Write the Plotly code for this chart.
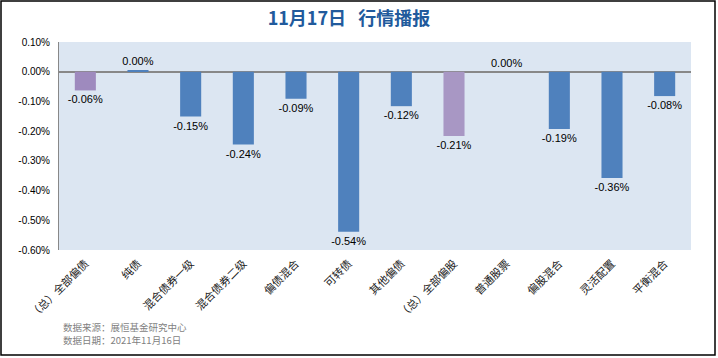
import plotly.graph_objects as go

categories = ["（总）全部偏债", "纯债", "混合债券一级", "混合债券二级", "偏债混合", "可转债",
              "其他偏债", "（总）全部偏股", "普通股票", "偏股混合", "灵活配置", "平衡混合"]
values = [-0.063, 0.003, -0.151, -0.245, -0.091, -0.539, -0.116, -0.216, 0.0, -0.193, -0.358, -0.082]
labels = ["-0.06%", "0.00%", "-0.15%", "-0.24%", "-0.09%", "-0.54%", "-0.12%", "-0.21%", "0.00%", "-0.19%", "-0.36%", "-0.08%"]
colors = ["#9E8ABE", "#4F81BD", "#4F81BD", "#4F81BD", "#4F81BD", "#4F81BD",
          "#4F81BD", "#A897C4", "#4F81BD", "#4F81BD", "#4F81BD", "#4F81BD"]
ytick_vals = [0.1, 0.0, -0.1, -0.2, -0.3, -0.4, -0.5, -0.6]
ytick_text = ["0.10%", "0.00%", "-0.10%", "-0.20%", "-0.30%", "-0.40%", "-0.50%", "-0.60%"]

fig = go.Figure()
fig.add_trace(go.Bar(
    x=categories, y=values, marker_color=colors, marker_line_width=0,
    text=labels, textposition="outside", cliponaxis=False, constraintext="none",
    textfont=dict(family="Liberation Sans, Arial", size=11, color="#000000"),
    hoverinfo="skip",
))

fig.update_layout(
    width=718, height=358,
    margin=dict(l=59, r=27, t=42, b=108),
    paper_bgcolor="white", plot_bgcolor="#DCE6F2",
    bargap=0.6, showlegend=False,
    title=dict(text="<b>11月17日&nbsp;&nbsp;&nbsp;行情播报</b>", x=349 / 718, xanchor="center",
               y=1 - 19 / 358, yanchor="middle",
               font=dict(family="Noto Sans CJK SC", size=18, color="#215A9C")),
    xaxis=dict(tickangle=-45, tickfont=dict(family="Noto Sans CJK SC", size=11, color="#1A1A1A"),
               showgrid=False, showline=False, ticks="", automargin=False, ticklabelstandoff=4),
    yaxis=dict(range=[-0.6, 0.1], tickvals=ytick_vals, ticktext=ytick_text,
               tickfont=dict(family="Liberation Sans, Arial", size=10, color="#000000"),
               showgrid=False, zeroline=True, zerolinecolor="#888888", zerolinewidth=1.5,
               showline=True, linecolor="#888888", linewidth=1, ticks="", automargin=False,
               ticklabelstandoff=6),
)

fig.add_annotation(text="数据来源：展恒基金研究中心", xref="paper", yref="paper", x=0, y=0,
                   xanchor="left", yanchor="middle", xshift=2, yshift=-77, showarrow=False,
                   font=dict(family="Noto Sans CJK SC", size=9.5, color="#7F7F7F"))
fig.add_annotation(text="数据日期：2021年11月16日", xref="paper", yref="paper", x=0, y=0,
                   xanchor="left", yanchor="middle", xshift=2, yshift=-90, showarrow=False,
                   font=dict(family="Noto Sans CJK SC", size=9.5, color="#7F7F7F"))

fig.add_shape(type="rect", xref="paper", yref="paper", x0=-58/632, x1=1 + 24/632,
              y0=-105/208, y1=1 + 41/208, line=dict(color="#000000", width=1.5), layer="above")

fig.write_html("out.html", config={"displayModeBar": False},
               post_script="document.body.style.margin='0';")
